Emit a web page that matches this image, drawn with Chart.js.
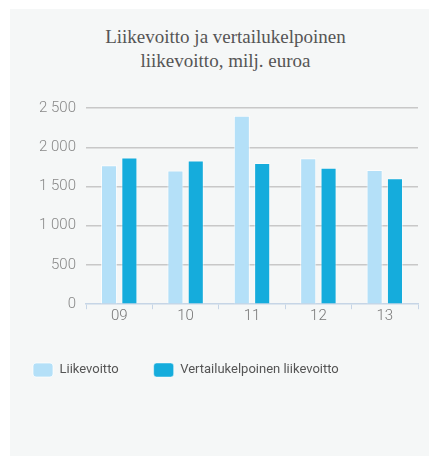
<!DOCTYPE html>
<html lang="fi">
<head>
    <meta charset="UTF-8">
    <title>Liikevoitto</title>
    <script src="https://cdn.jsdelivr.net/npm/chart.js"></script>
    <style>
        html, body { margin: 0; padding: 0; background: #fff; }
        #wrap { position: relative; width: 429px; height: 456px; overflow: hidden; }
        #panel { position: absolute; left: 10px; top: 9px; width: 419px; height: 447px; background: #f5f7f7; }
        #title { position: absolute; left: 22px; width: 407px; top: 25px; text-align: center;
                 font-family: "Liberation Serif", serif; font-size: 19px; line-height: 23.5px; color: #555; }
        #box { position: absolute; left: -2px; top: 0; width: 431px; height: 456px; }
    </style>
</head>
<body>
<div id="wrap">
    <div id="panel"></div>
    <div id="title">Liikevoitto ja vertailukelpoinen<br>liikevoitto, milj. euroa</div>
    <div id="box"><canvas id="chart"></canvas></div>
</div>

<script>
    // data (milj. euroa)
    const years = ['09', '10', '11', '12', '13'];
    const liikevoitto = [1770, 1705, 2400, 1860, 1710];
    const vertailukelpoinen = [1870, 1830, 1800, 1740, 1605];
    const yTicks = [0, 500, 1000, 1500, 2000, 2500];

    const tickFont = { family: 'Roboto', size: 15, weight: '300' };

    new Chart(document.getElementById('chart'), {
        type: 'bar',
        data: {
            labels: years,
            datasets: [{
                label: 'Liikevoitto',
                data: liikevoitto,
                backgroundColor: '#b4e0f8',
                borderColor: 'rgba(255,255,255,0.7)',
                borderWidth: 1,
                categoryPercentage: 0.613,
                barPercentage: 0.79
            }, {
                label: 'Vertailukelpoinen liikevoitto',
                data: vertailukelpoinen,
                backgroundColor: '#15acdc',
                borderColor: 'rgba(255,255,255,0.45)',
                borderWidth: 1,
                categoryPercentage: 0.613,
                barPercentage: 0.79
            }]
        },
        options: {
            responsive: true,
            maintainAspectRatio: false,
            animation: false,
            layout: { padding: { top: 108, right: 11, bottom: 69, left: 0 } },
            plugins: {
                title: { display: false },
                tooltip: { enabled: false },
                legend: {
                    position: 'bottom',
                    align: 'start',
                    labels: {
                        boxWidth: 20,
                        boxHeight: 14,
                        padding: 35,
                        useBorderRadius: true,
                        borderRadius: 3,
                        color: '#555',
                        font: { family: 'Roboto', size: 13 }
                    }
                }
            },
            scales: {
                x: {
                    afterFit: (scale) => { scale.height = 23.8; },
                    grid: { drawOnChartArea: false, drawTicks: true, tickLength: 5, color: '#c6d5e6' },
                    border: { color: '#c6d5e6', width: 1.5 },
                    ticks: { color: '#777', font: tickFont, padding: -2 }
                },
                y: {
                    min: 0,
                    max: 2500,
                    afterFit: (scale) => { scale.width = 88; },
                    afterBuildTicks: (scale) => { scale.ticks = yTicks.map(v => ({ value: v })); },
                    grid: {
                        drawTicks: false,
                        lineWidth: 1.4,
                        color: (c) => c.tick && c.tick.value === 0 ? 'rgba(0,0,0,0)' : '#c8c8c8'
                    },
                    border: { display: false },
                    ticks: {
                        color: '#888',
                        font: tickFont,
                        padding: 10,
                        callback: (v) => String(v).replace(/\B(?=(\d{3})+(?!\d))/g, ' ')
                    }
                }
            }
        }
    });
</script>
</body>
</html>
